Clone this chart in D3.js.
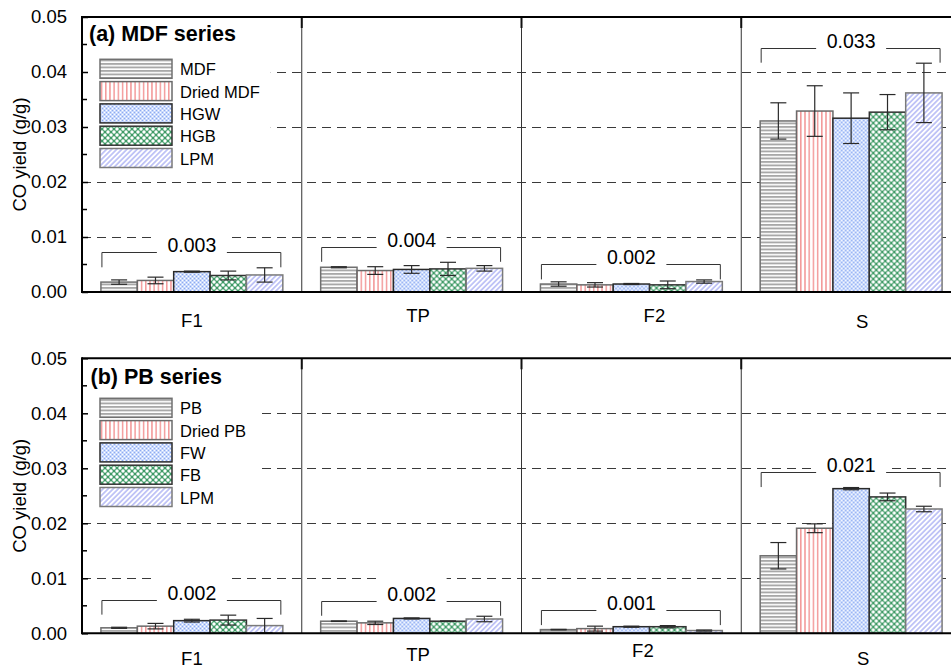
<!DOCTYPE html>
<html>
<head>
<meta charset="utf-8">
<script src="https://cdnjs.cloudflare.com/ajax/libs/d3/7.8.5/d3.min.js"></script>
<style>
  body { margin: 0; background: #fff; }
  svg { display: block; font-family: "Liberation Sans", Arial, sans-serif; }
</style>
</head>
<body>
<div id="chart"></div>
<script>
// categories (stages) and sample names
var categories = ["F1", "TP", "F2", "S"];
var mdfSeries = ["MDF", "Dried MDF", "HGW", "HGB", "LPM"];
var pbSeries = ["PB", "Dried PB", "FW", "FB", "LPM"];

// CO yield (g/g), one row per stage, one column per sample
var mdfMeans = [
  [0.0018, 0.0021, 0.0037, 0.0030, 0.0031],
  [0.0045, 0.0039, 0.0041, 0.0042, 0.0043],
  [0.00145, 0.0013, 0.00145, 0.0013, 0.0019],
  [0.0311, 0.0329, 0.0316, 0.0327, 0.0362]
];
var mdfErrors = [
  [0.0004, 0.0006, 0.0001, 0.0008, 0.0013],
  [0.0001, 0.0007, 0.0007, 0.0012, 0.0005],
  [0.0004, 0.0004, 0.0001, 0.0007, 0.0003],
  [0.0033, 0.0046, 0.0046, 0.0032, 0.0054]
];
var pbMeans = [
  [0.0010, 0.0013, 0.0023, 0.0024, 0.0014],
  [0.0022, 0.0019, 0.0027, 0.0022, 0.0026],
  [0.00067, 0.00085, 0.0012, 0.0012, 0.0005],
  [0.0141, 0.0191, 0.0263, 0.0248, 0.0226]
];
var pbErrors = [
  [0.0001, 0.0005, 0.00025, 0.0009, 0.0013],
  [0.00005, 0.0003, 0.0001, 0.00005, 0.0005],
  [0.00005, 0.00045, 0.0001, 0.0002, 0.0001],
  [0.0024, 0.0008, 0.0002, 0.0007, 0.0005]
];

// group averages written over the brackets
var mdfGroupLabels = ["0.003", "0.004", "0.002", "0.033"];
var pbGroupLabels = ["0.002", "0.002", "0.001", "0.021"];

// y axis ticks
var yTicks = [0, 0.01, 0.02, 0.03, 0.04, 0.05];
var yMinorTicks = [0.005, 0.015, 0.025, 0.035, 0.045];
var gridTicks = [0.01, 0.02, 0.03, 0.04];

// set the dimensions
var width = 951, height = 669,
    left = 82, right = 961;

var panels = [
  {title: "(a) MDF series", series: mdfSeries, means: mdfMeans, errors: mdfErrors,
   labels: mdfGroupLabels, top: 17, bottom: 292, titleX: 89, titleDy: 23.7, legendDy: 42.3,
   catDx: [0, 6.5, 23, 11], catDy: [35, 30, 30, 36]},
  {title: "(b) PB series", series: pbSeries, means: pbMeans, errors: pbErrors,
   labels: pbGroupLabels, top: 358.3, bottom: 633.3, titleX: 90.5, titleDy: 25.7, legendDy: 40,
   catDx: [0, 6.5, 11.5, 12], catDy: [32, 28, 23.5, 32]}
];

// bar outline per sample position
var barStroke = ["#707070", "#6a6a6a", "#2a2a2a", "#333333", "#7a7a7a"];

var svg = d3.select("#chart").append("svg")
    .attr("width", width)
    .attr("height", height);

// fill patterns
var defs = svg.append("defs");

var p0 = defs.append("pattern").attr("id", "pat0")
    .attr("patternUnits", "userSpaceOnUse").attr("width", 4).attr("height", 3.5);
p0.append("rect").attr("width", 4).attr("height", 3.5).attr("fill", "#fff");
p0.append("rect").attr("width", 4).attr("height", 1.9).attr("fill", "#a8a8a8");

var p1 = defs.append("pattern").attr("id", "pat1")
    .attr("patternUnits", "userSpaceOnUse").attr("width", 4.2).attr("height", 4);
p1.append("rect").attr("width", 4.2).attr("height", 4).attr("fill", "#fff");
p1.append("rect").attr("width", 1.5).attr("height", 4).attr("fill", "#f39a9a");

var p2 = defs.append("pattern").attr("id", "pat2")
    .attr("patternUnits", "userSpaceOnUse").attr("width", 4).attr("height", 4);
p2.append("rect").attr("width", 4).attr("height", 4).attr("fill", "#c9d9fc");
p2.append("rect").attr("x", 0).attr("y", 0).attr("width", 1).attr("height", 1).attr("fill", "#fff");
p2.append("rect").attr("x", 2).attr("y", 2).attr("width", 1).attr("height", 1).attr("fill", "#fff");
p2.append("rect").attr("x", 2).attr("y", 0).attr("width", 1).attr("height", 1).attr("fill", "#8eaaf0");
p2.append("rect").attr("x", 0).attr("y", 2).attr("width", 1).attr("height", 1).attr("fill", "#8eaaf0");

var p3 = defs.append("pattern").attr("id", "pat3")
    .attr("patternUnits", "userSpaceOnUse").attr("width", 6).attr("height", 6);
p3.append("rect").attr("width", 6).attr("height", 6).attr("fill", "#3f9a66");
[[0, 0], [6, 0], [0, 6], [6, 6], [3, 3]].forEach(function(c) {
  p3.append("circle").attr("cx", c[0]).attr("cy", c[1]).attr("r", 1.75).attr("fill", "#fff");
});

var p4 = defs.append("pattern").attr("id", "pat4")
    .attr("patternUnits", "userSpaceOnUse").attr("width", 3.6).attr("height", 3.6)
    .attr("patternTransform", "rotate(45)");
p4.append("rect").attr("width", 3.6).attr("height", 3.6).attr("fill", "#fff");
p4.append("rect").attr("width", 1.8).attr("height", 3.6).attr("fill", "#bfc3f6");

// set the ranges
var x = d3.scaleBand().domain(categories).range([left, right]);
var xSub = d3.scaleBand().domain(d3.range(5)).range([0, x.bandwidth()]).paddingOuter(0.52);

panels.forEach(function(pn) {
  var y = d3.scaleLinear().domain([0, 0.05]).range([pn.bottom, pn.top]);
  var g = svg.append("g");

  // dashed grid lines
  var grid = g.append("g");
  grid.selectAll("line").data(gridTicks).enter().append("line")
      .attr("x1", left).attr("x2", right)
      .attr("y1", function(d) { return Math.round(y(d)) + 0.5; })
      .attr("y2", function(d) { return Math.round(y(d)) + 0.5; })
      .style("stroke", "#3a3a3a")
      .style("stroke-width", 1.2)
      .style("stroke-dasharray", "9,6");

  // legend background, title and entries
  var lg = g.append("g");
  var bg = lg.append("rect").style("fill", "#fff");
  lg.append("text")
      .attr("x", pn.titleX).attr("y", pn.top + pn.titleDy)
      .style("font-size", "21.5px").style("font-weight", "bold")
      .text(pn.title);
  var maxRight = 0;
  pn.series.forEach(function(s, i) {
    var by = pn.top + pn.legendDy + i * 22.3;
    lg.append("rect")
        .attr("x", 100).attr("y", by).attr("width", 72).attr("height", 19)
        .style("fill", "url(#pat" + i + ")")
        .style("stroke", barStroke[i]).style("stroke-width", 1.5);
    var t = lg.append("text")
        .attr("x", 180).attr("y", by + 16)
        .style("font-size", "16.5px")
        .text(s);
    maxRight = Math.max(maxRight, 180 + t.node().getComputedTextLength());
  });
  bg.attr("x", left + 1).attr("y", pn.top + 1)
    .attr("width", maxRight + 10 - left)
    .attr("height", pn.legendDy + 4 * 22.3 + 22);

  // stage separators
  g.selectAll(".sep").data(categories.slice(1)).enter().append("line")
      .attr("x1", function(d) { return x(d); })
      .attr("x2", function(d) { return x(d); })
      .attr("y1", pn.top).attr("y2", pn.bottom)
      .style("stroke", "#333").style("stroke-width", 1);
  g.selectAll(".septick").data(categories.slice(1)).enter().append("line")
      .attr("x1", function(d) { return x(d); })
      .attr("x2", function(d) { return x(d); })
      .attr("y1", pn.top).attr("y2", pn.top + 11)
      .style("stroke", "#111").style("stroke-width", 2);

  // brackets with the group average
  categories.forEach(function(cat, ci) {
    var maxTop = d3.max(pn.means[ci], function(v, i) { return v + pn.errors[ci][i]; });
    var yb = y(maxTop) - 0.5, yl = Math.round(yb - 15) + 0.5;
    var x0 = x(cat) + xSub(0) + 1, x1 = x(cat) + xSub(4) + xSub.bandwidth() - 2;
    var cx = x(cat) + x.bandwidth() / 2;
    g.append("path")
        .attr("d", "M" + x0 + "," + yb + "V" + yl + "H" + x1 + "V" + yb)
        .style("fill", "none").style("stroke", "#333").style("stroke-width", 1);
    g.append("rect")
        .attr("x", cx - 35).attr("y", yl - 26)
        .attr("width", 70).attr("height", 27.5)
        .style("fill", "#fff");
    g.append("text")
        .attr("x", cx).attr("y", yl - 1)
        .attr("text-anchor", "middle")
        .style("font-size", "19.5px")
        .text(pn.labels[ci]);
  });

  // bars
  categories.forEach(function(cat, ci) {
    var grp = g.append("g").attr("transform", "translate(" + x(cat) + ",0)");
    grp.selectAll("rect").data(pn.means[ci]).enter().append("rect")
        .attr("x", function(d, i) { return xSub(i); })
        .attr("y", function(d) { return y(d); })
        .attr("width", xSub.bandwidth())
        .attr("height", function(d) { return y(0) - y(d); })
        .style("fill", function(d, i) { return "url(#pat" + i + ")"; })
        .style("stroke", function(d, i) { return barStroke[i]; })
        .style("stroke-width", 1.5);

    // error bars
    pn.means[ci].forEach(function(v, i) {
      var e = pn.errors[ci][i],
          bx = xSub(i) + xSub.bandwidth() / 2;
      var eb = grp.append("g").style("stroke", "#2a2a2a").style("stroke-width", 1.2);
      eb.append("line").attr("x1", bx).attr("x2", bx).attr("y1", y(v - e)).attr("y2", y(v + e));
      eb.append("line").attr("x1", bx - 8).attr("x2", bx + 8).attr("y1", y(v - e)).attr("y2", y(v - e));
      eb.append("line").attr("x1", bx - 8).attr("x2", bx + 8).attr("y1", y(v + e)).attr("y2", y(v + e));
    });
  });

  // frame: left axis, bottom axis, top border
  g.append("line").attr("x1", left).attr("x2", right).attr("y1", pn.bottom).attr("y2", pn.bottom)
      .style("stroke", "#000").style("stroke-width", 2);
  g.append("line").attr("x1", left).attr("x2", right).attr("y1", pn.top).attr("y2", pn.top)
      .style("stroke", "#000").style("stroke-width", 2);
  g.append("line").attr("x1", left).attr("x2", left).attr("y1", pn.top - 1).attr("y2", pn.bottom + 1)
      .style("stroke", "#000").style("stroke-width", 2);

  // y axis ticks (inward) and labels
  var yAxis = d3.axisLeft(y).tickValues(yTicks).tickSize(-6).tickPadding(15)
      .tickFormat(d3.format(".2f"));
  var ax = g.append("g").attr("transform", "translate(" + left + ",0)").call(yAxis);
  ax.select(".domain").remove();
  ax.selectAll(".tick line").style("stroke", "#000").style("stroke-width", 1.5);
  ax.selectAll(".tick text")
      .style("font-size", "18.5px").style("fill", "#000")
      .style("font-family", "'Liberation Sans', Arial, sans-serif");
  g.selectAll(".minor").data(yMinorTicks).enter().append("line")
      .attr("x1", left).attr("x2", left + 5)
      .attr("y1", function(d) { return y(d); })
      .attr("y2", function(d) { return y(d); })
      .style("stroke", "#000").style("stroke-width", 1.5);

  // y axis title
  g.append("text")
      .attr("transform", "translate(26," + (pn.top + pn.bottom) / 2 + ") rotate(-90)")
      .attr("text-anchor", "middle")
      .style("font-size", "18.5px")
      .text("CO yield (g/g)");

  // stage labels
  g.selectAll(".cat").data(categories).enter().append("text")
      .attr("x", function(d, i) { return x(d) + x.bandwidth() / 2 + pn.catDx[i]; })
      .attr("y", function(d, i) { return pn.bottom + pn.catDy[i]; })
      .attr("text-anchor", "middle")
      .style("font-size", "18.5px")
      .text(function(d) { return d; });
});
</script>
</body>
</html>
